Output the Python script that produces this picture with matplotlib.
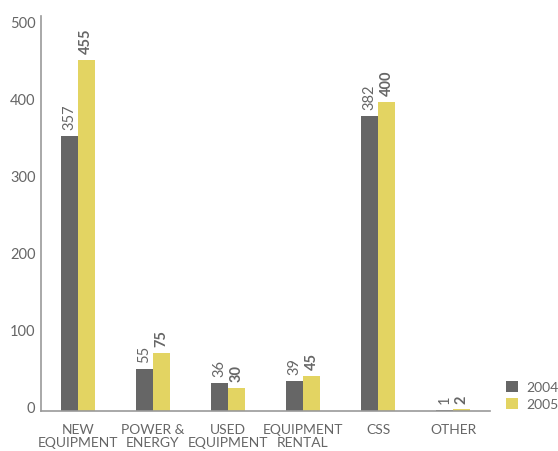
import matplotlib
matplotlib.use("Agg")
import matplotlib.pyplot as plt
import matplotlib.transforms as mtransforms
import numpy as np

categories = ["NEW\nEQUIPMENT", "POWER &\nENERGY", "USED\nEQUIPMENT", "EQUIPMENT\nRENTAL", "CSS", "OTHER"]
values_2004 = [357, 55, 36, 39, 382, 1]
values_2005 = [455, 75, 30, 45, 400, 2]
series_names = ["2004", "2005"]
yticks = [0, 100, 200, 300, 400, 500]

dark = "#666666"
yellow = "#e3d462"
txt = "#666666"
plt.rcParams['font.family'] = ['Lato', 'DejaVu Sans']

fig = plt.figure(figsize=(5.58, 4.52), dpi=100)
ax = fig.add_axes([41/558, 1-412/452, (490-41)/558, (412-17)/452])

x = np.arange(len(categories))
w = 0.227
b1 = ax.bar(x - w/2, values_2004, w, color=dark, label=series_names[0])
b2 = ax.bar(x + w/2, values_2005, w, color=yellow, label=series_names[1])

for xi, v in zip(x - w/2, values_2004):
    ax.annotate(str(v), (xi, v), xytext=(0, 5), textcoords="offset points",
                rotation=90, ha="center", va="bottom", fontsize=10.5, color=txt)
for xi, v in zip(x + w/2, values_2005):
    ax.annotate(str(v), (xi, v), xytext=(0, 5), textcoords="offset points",
                rotation=90, ha="center", va="bottom", fontsize=10.5, color=txt, fontweight="bold")

ax.set_xlim(-0.49, 5.49)
ax.set_ylim(0, 512)
ax.set_yticks(yticks)
ax.set_yticklabels([str(t) for t in yticks], fontsize=10.5, color=txt)
ax.set_xticks(x)
ax.set_xticklabels(categories, fontsize=10, color=txt, linespacing=1.1)
ax.tick_params(axis="both", length=0)
ax.tick_params(axis="y", pad=4)
ax.tick_params(axis="x", pad=9)
off = mtransforms.ScaledTranslation(0, 4/100, fig.dpi_scale_trans)
for lab in ax.get_yticklabels():
    lab.set_transform(lab.get_transform() + off)

for s in ["top", "right"]:
    ax.spines[s].set_visible(False)
for s in ["left", "bottom"]:
    ax.spines[s].set_color("#999999")
    ax.spines[s].set_linewidth(1.2)

leg = fig.legend(handles=[b1, b2], labels=series_names, loc="upper left",
                 bbox_to_anchor=(506/558, 1-382/452), frameon=False, fontsize=10,
                 handlelength=0.85, handleheight=0.85, handletextpad=0.6, labelspacing=0.3,
                 borderaxespad=0, borderpad=0)
for t in leg.get_texts():
    t.set_color(txt)

fig.savefig("out.png", dpi=100)
